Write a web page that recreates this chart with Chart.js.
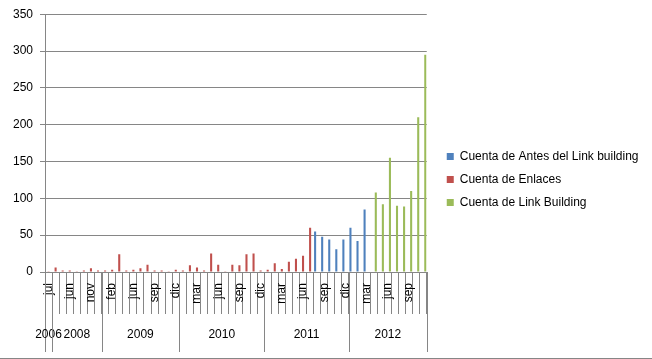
<!DOCTYPE html>
<html>
<head>
<meta charset="utf-8">
<script src="https://cdn.jsdelivr.net/npm/chart.js@4.4.0/dist/chart.umd.min.js"></script>
<style>
  html, body { margin: 0; padding: 0; background: #fff; }
</style>
</head>
<body>
<canvas id="chart" width="652" height="359"></canvas>
<script>
// categorías (meses) agrupadas por año
const months = [
  "jul",
  "abr", "may", "jun", "ago", "oct", "nov", "dic",
  "ene", "feb", "mar", "abr", "jun", "jul", "ago", "sep", "oct", "nov", "dic",
  "ene", "feb", "mar", "abr", "may", "jun", "jul", "ago", "sep", "oct", "nov", "dic",
  "ene", "feb", "mar", "abr", "may", "jun", "jul", "ago", "sep", "oct", "nov", "dic",
  "ene", "feb", "mar", "abr", "may", "jun", "jul", "ago", "sep", "oct", "nov"
];
const yearNames = ["2006", "2008", "2009", "2010", "2011", "2012"];
const yearCounts = [1, 7, 11, 12, 12, 11];

// series
const antes = [
  null,
  null, null, null, null, null, null, null,
  null, null, null, null, null, null, null, null, null, null, null,
  null, null, null, null, null, null, null, null, null, null, null, null,
  null, null, null, null, null, null, null, 55, 48, 44, 31, 44,
  60, 42, 85, null, null, null, null, null, null, null, null
];
const enlaces = [
  1,
  6, 2, 2, 1, 2, 5, 2,
  2, 3, 24, 2, 3, 5, 10, 2, 2, 1, 3,
  2, 9, 6, 2, 25, 10, 1, 10, 9, 24, 25, 2,
  3, 12, 4, 14, 18, 22, 60, null, null, null, null, null,
  null, null, null, null, null, null, null, null, null, null, null
];
const linkBuilding = [
  null,
  null, null, null, null, null, null, null,
  null, null, null, null, null, null, null, null, null, null, null,
  null, null, null, null, null, null, null, null, null, null, null, null,
  null, null, null, null, null, null, null, null, null, null, null, null,
  null, null, null, 108, 92, 155, 90, 89, 110, 210, 295
];

const yTicks = [0, 50, 100, 150, 200, 250, 300, 350];

const gridColor = "#868686";
const font = { family: "'Liberation Sans', Arial, sans-serif", size: 12 };

// eje de años (segundo nivel de categorías)
const yearAxis = {
  id: "yearAxis",
  afterLayout(chart) {
    // leyenda separada del área de trazado, como en Excel
    const lg = chart.legend;
    lg.left = chart.chartArea.right + 9;
    lg.right = chart.width;
    lg.top -= 7;
    lg.bottom -= 7;
  },
  afterDraw(chart) {
    const { ctx, scales: { x, y } } = chart;
    const half = (x.getPixelForValue(1) - x.getPixelForValue(0)) / 2;
    const top = y.bottom;
    const bottom = top + 80;
    ctx.save();
    ctx.strokeStyle = gridColor;
    ctx.lineWidth = 1;
    ctx.fillStyle = "#000";
    ctx.font = font.size + "px " + font.family;
    ctx.textAlign = "center";
    ctx.textBaseline = "middle";
    let start = 0;
    yearNames.forEach((name, k) => {
      const end = start + yearCounts[k] - 1;
      const left = x.getPixelForValue(start) - half;
      const right = x.getPixelForValue(end) + half;
      [left, right].forEach(px => {
        const lx = Math.round(px) + 0.5;
        ctx.beginPath();
        ctx.moveTo(lx, top);
        ctx.lineTo(lx, bottom);
        ctx.stroke();
      });
      ctx.fillText(name, (left + right) / 2, top + 63);
      start = end + 1;
    });
    // borde inferior
    ctx.beginPath();
    ctx.moveTo(0, 358.5);
    ctx.lineTo(chart.width, 358.5);
    ctx.stroke();
    ctx.restore();
  }
};

new Chart(document.getElementById("chart"), {
  type: "bar",
  data: {
    labels: months,
    datasets: [
      { label: "Cuenta de Antes del Link building", data: antes, backgroundColor: "#4F81BD" },
      { label: "Cuenta de Enlaces", data: enlaces, backgroundColor: "#C0504D" },
      { label: "Cuenta de Link Building", data: linkBuilding, backgroundColor: "#9BBB59" }
    ]
  },
  options: {
    responsive: false,
    animation: false,
    devicePixelRatio: 1,
    layout: { padding: { top: 14, right: 83, bottom: 0, left: 0 } },
    datasets: { bar: { barPercentage: 1, categoryPercentage: 0.88 } },
    plugins: {
      tooltip: { enabled: false },
      legend: {
        position: "right",
        labels: { boxWidth: 7, boxHeight: 7, padding: 11, color: "#000", font: font }
      }
    },
    scales: {
      x: {
        afterFit: s => { s.height = 87; },
        grid: { drawOnChartArea: false, drawTicks: true, tickLength: 42, color: gridColor, tickColor: gridColor },
        border: { display: true, color: gridColor },
        ticks: {
          autoSkip: false, maxRotation: 90, minRotation: 90, padding: -31,
          color: "#000", font: font,
          callback: (v, i) => (i % 3 === 0 ? months[i] : "")
        }
      },
      y: {
        min: 0, max: 350,
        afterFit: s => { s.width = 45; },
        afterBuildTicks: s => { s.ticks = yTicks.map(v => ({ value: v })); },
        grid: { color: gridColor, tickLength: 5, tickColor: gridColor },
        border: { display: true, color: gridColor },
        ticks: { padding: 7, color: "#000", font: font }
      }
    }
  },
  plugins: [yearAxis]
});
</script>
</body>
</html>
